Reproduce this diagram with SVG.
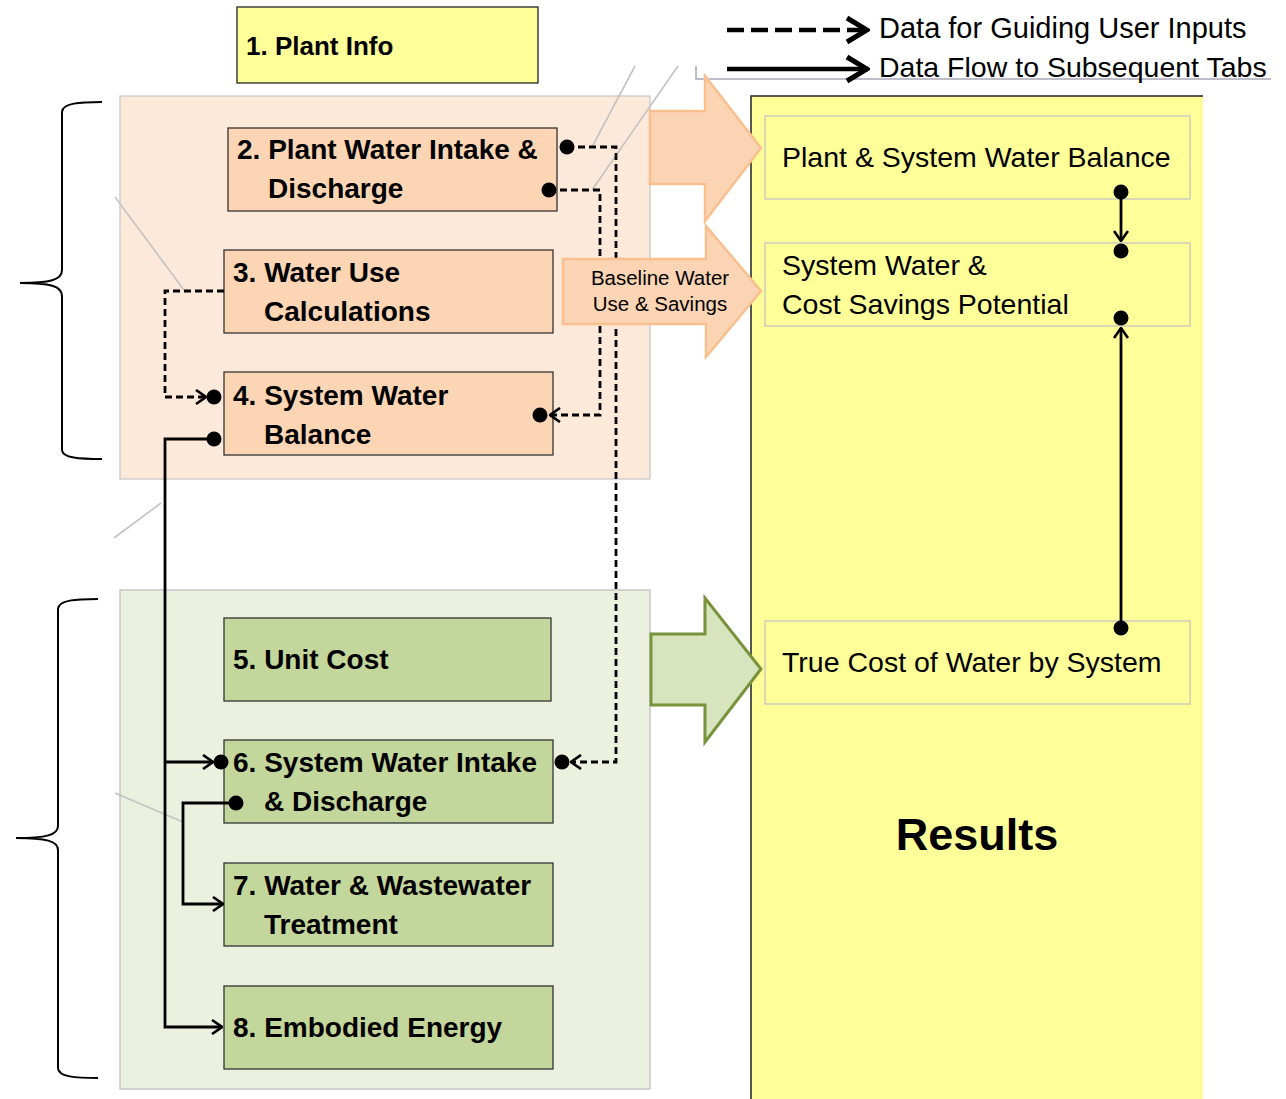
<svg xmlns="http://www.w3.org/2000/svg" width="1286" height="1099" viewBox="0 0 1286 1099">
<style>
text{font-family:"Liberation Sans",Arial,sans-serif;fill:#000}
.b{font-weight:bold;font-size:28px}
.r{font-size:28.5px}
.node{stroke:#333;stroke-width:1.3}
.org{fill:#FCD5B5}
.grn{fill:#C3D69B}
.res{fill:#FFFF99;stroke:#C4C4C4;stroke-width:1.3}
.dash{fill:none;stroke:#000;stroke-width:2.8;stroke-dasharray:7,4}
.solid{fill:none;stroke:#000;stroke-width:2.8}
.deco{fill:none;stroke:#C3C3C3;stroke-width:1.6}
.brace{fill:none;stroke:#000;stroke-width:2}
</style>
<defs>
<marker id="chev" viewBox="0 0 12 16" refX="11" refY="8" markerWidth="12" markerHeight="16" markerUnits="userSpaceOnUse" orient="auto">
<path d="M1,1 L11,8 L1,15" fill="none" stroke="#000" stroke-width="2.6"/>
</marker>
<marker id="bigchev" viewBox="0 0 26 30" refX="24" refY="15" markerWidth="26" markerHeight="30" markerUnits="userSpaceOnUse" orient="auto">
<path d="M3,3 L23,15 L3,27" fill="none" stroke="#000" stroke-width="5"/>
</marker>
</defs>
<rect width="1286" height="1099" fill="#fff"/>

<!-- containers -->
<rect id="orange-group" x="120" y="96" width="530" height="383" fill="#FDE9D9" stroke="#C8C8C8" stroke-width="1.3"/>
<rect id="green-group" x="120" y="590" width="530" height="499" fill="#EBF1DE" stroke="#BFBFBF" stroke-width="1.3"/>

<!-- results panel -->
<g id="results">
<rect x="751" y="96" width="452" height="1010" fill="#FFFF99"/>
<path d="M751,1099 L751,96 L1203,96" fill="none" stroke="#222" stroke-width="1.5"/>
<text x="977" y="850" text-anchor="middle" font-weight="bold" font-size="45">Results</text>
</g>

<!-- decorative gray lines -->
<g id="decor">
<line class="deco" x1="592" y1="147" x2="635" y2="66"/>
<line class="deco" x1="592" y1="190" x2="678" y2="66"/>
<line class="deco" x1="115" y1="197" x2="184" y2="290"/>
<line class="deco" x1="114" y1="538" x2="161" y2="503"/>
<line class="deco" x1="115" y1="793" x2="183" y2="822"/>
<polyline points="696,66 696,79 1271,79" fill="none" stroke="#A8A8B8" stroke-width="1.5"/>
</g>

<!-- braces -->
<path class="brace" d="M102,102 C80,102 62,103 62,112 L62,270 C62,280 50,283 20,283 C50,283 62,286 62,296 L62,450 C62,458 80,459 102,459"/>
<path class="brace" d="M98,599 C76,599 58,600 58,609 L58,826 C58,835 46,838 16,838 C46,838 58,841 58,850 L58,1068 C58,1077 76,1078 98,1078"/>

<!-- nodes -->
<g id="n1">
<rect x="237" y="7" width="301" height="76" fill="#FFFF99" stroke="#222" stroke-width="1.3"/>
<text x="246" y="55" style="font-weight:bold;font-size:26px">1. Plant Info</text>
</g>
<g id="n2">
<rect class="node org" x="228" y="128" width="329" height="83"/>
<text class="b" x="237" y="159">2. Plant Water Intake &amp;</text>
<text class="b" x="268" y="198">Discharge</text>
</g>
<g id="n3">
<rect class="node org" x="224" y="250" width="329" height="83"/>
<text class="b" x="233" y="282">3. Water Use</text>
<text class="b" x="264" y="321">Calculations</text>
</g>
<g id="n4">
<rect class="node org" x="224" y="372" width="329" height="83"/>
<text class="b" x="233" y="405">4. System Water</text>
<text class="b" x="264" y="444">Balance</text>
</g>
<g id="n5">
<rect class="node grn" x="224" y="618" width="327" height="83"/>
<text class="b" x="233" y="669">5. Unit Cost</text>
</g>
<g id="n6">
<rect class="node grn" x="224" y="740" width="329" height="83"/>
<text class="b" x="233" y="772">6. System Water Intake</text>
<text class="b" x="264" y="811">&amp; Discharge</text>
</g>
<g id="n7">
<rect class="node grn" x="224" y="863" width="329" height="83"/>
<text class="b" x="233" y="895">7. Water &amp; Wastewater</text>
<text class="b" x="264" y="934">Treatment</text>
</g>
<g id="n8">
<rect class="node grn" x="224" y="986" width="329" height="83"/>
<text class="b" x="233" y="1037">8. Embodied Energy</text>
</g>
<g id="r1">
<rect class="res" x="765" y="116" width="425" height="83"/>
<text class="r" x="782" y="167">Plant &amp; System Water Balance</text>
</g>
<g id="r2">
<rect class="res" x="765" y="243" width="425" height="83"/>
<text class="r" x="782" y="275">System Water &amp;</text>
<text class="r" x="782" y="314">Cost Savings Potential</text>
</g>
<g id="r3">
<rect class="res" x="765" y="621" width="425" height="83"/>
<text class="r" x="782" y="672">True Cost of Water by System</text>
</g>

<!-- legend -->
<g id="legend">
<line x1="727" y1="30" x2="868" y2="30" stroke="#000" stroke-width="4.5" stroke-dasharray="17,7" marker-end="url(#bigchev)"/>
<line x1="727" y1="69" x2="868" y2="69" stroke="#000" stroke-width="4.5" marker-end="url(#bigchev)"/>
<text x="879" y="38" style="font-size:29px">Data for Guiding User Inputs</text>
<text class="r" x="879" y="77">Data Flow to Subsequent Tabs</text>
</g>

<!-- connectors -->
<g id="connectors">
<path class="dash" d="M567,147 H616 V762 H571" marker-end="url(#chev)"/>
<path class="dash" d="M549,190 H600 V415 H550" marker-end="url(#chev)"/>
<path class="dash" d="M224,291 H165 V397 H206" marker-end="url(#chev)"/>
<path class="solid" d="M214,439 H165 V1027 H222" marker-end="url(#chev)"/>
<path class="solid" d="M165,762 H213" marker-end="url(#chev)"/>
<path class="solid" d="M236,803 H183 V904 H223" marker-end="url(#chev)"/>
<path class="solid" d="M1121,192 V241" marker-end="url(#chev)"/>
<path class="solid" d="M1121,628 V328" marker-end="url(#chev)"/>
<g fill="#000">
<circle cx="567" cy="147" r="7.5"/>
<circle cx="549" cy="190" r="7.5"/>
<circle cx="540" cy="415" r="7.5"/>
<circle cx="214" cy="397" r="7.5"/>
<circle cx="214" cy="439" r="7.5"/>
<circle cx="562" cy="762" r="7.5"/>
<circle cx="221" cy="762" r="7.5"/>
<circle cx="236" cy="803" r="7.5"/>
<circle cx="1121" cy="192" r="7.5"/>
<circle cx="1121" cy="251" r="7.5"/>
<circle cx="1121" cy="318" r="7.5"/>
<circle cx="1121" cy="628" r="7.5"/>
</g>
</g>

<!-- big arrows (drawn over the dashed connectors) -->
<g id="arrow-orange-1">
<polygon points="650,111 705,111 705,76 761,148 705,221 705,184 650,184" fill="#FBD4B4" stroke="#F9BF8F" stroke-width="2.5"/>
</g>
<g id="arrow-baseline">
<polygon points="563,259 706,259 706,226 761,291 706,357 706,324 563,324" fill="#FBD4B4" stroke="#F9BF8F" stroke-width="2.5"/>
<text x="660" y="285" text-anchor="middle" font-size="20.5" fill="#1a1a1a">Baseline Water</text>
<text x="660" y="311" text-anchor="middle" font-size="20.5" fill="#1a1a1a">Use &amp; Savings</text>
</g>
<g id="arrow-green">
<polygon points="651,634 705,634 705,598 761,669 705,742 705,705 651,705" fill="#D7E4BD" stroke="#77933C" stroke-width="3"/>
</g>
</svg>
